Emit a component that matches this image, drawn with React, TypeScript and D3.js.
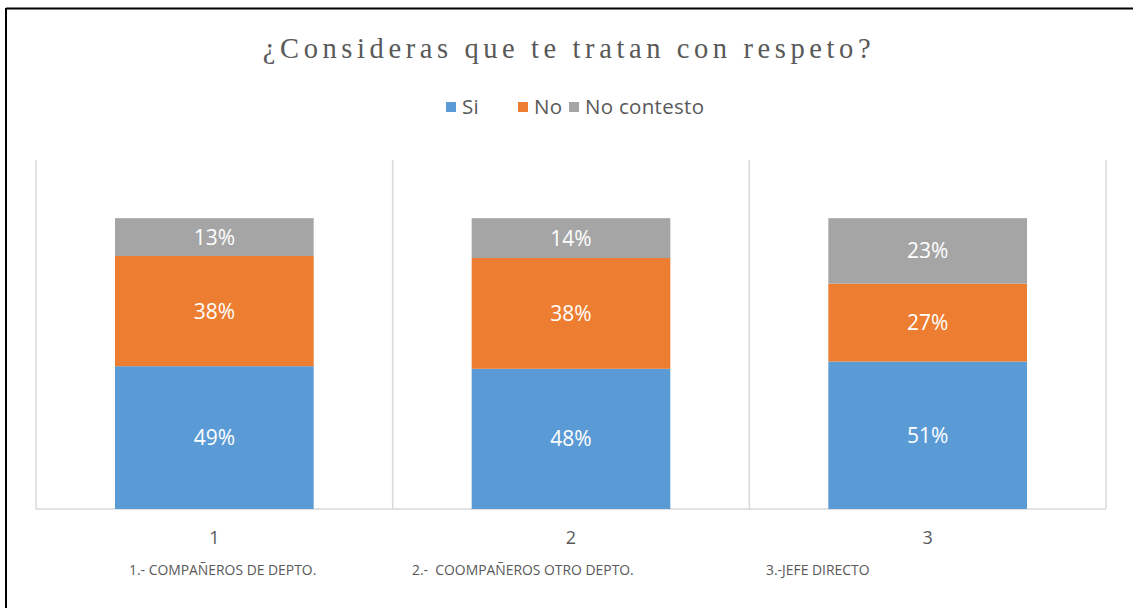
import React from "react";
import * as d3 from "d3";

const categories = ["1", "2", "3"];
const subLabels = ["1.- COMPAÑEROS DE DEPTO.", "2.-  COOMPAÑEROS OTRO DEPTO.", "3.-JEFE DIRECTO"];
const seriesNames = ["Si", "No", "No contesto"];
const siValues = [49.1, 48.2, 50.7];
const noValues = [37.9, 38.1, 26.8];
const noContestoValues = [13.0, 13.7, 22.5];
const colors = ["#5B9BD5", "#ED7D31", "#A5A5A5"];
const title = "¿Consideras que te tratan con respeto?";

const W = 1133;
const H = 608;
const plot = { left: 36, right: 1106, top: 160, bottom: 509 };
const FONT = "'Open Sans', 'Noto Sans', sans-serif";

export default function App() {
  const x = d3.scaleBand<string>().domain(categories).range([plot.left, plot.right]).padding(0);
  const y = d3.scaleLinear().domain([0, 120]).range([plot.bottom, plot.top]);
  const barW = x.bandwidth() * 0.557;

  const rows = categories.map((c, i) => ({ cat: c, Si: siValues[i], No: noValues[i], "No contesto": noContestoValues[i] }));
  const stacked = d3.stack<any>().keys(seriesNames)(rows);

  const gridXs = [...categories.map((c) => x(c) as number), plot.right];

  const legendItems = [
    { name: "Si", x: 446 },
    { name: "No", x: 518 },
    { name: "No contesto", x: 569 },
  ];
  const subX = [129, 412, 766];

  return (
    <svg width={W} height={H} style={{ position: "absolute", left: 0, top: 0, background: "#fff" }}>
      <rect x={0} y={0} width={W} height={H} fill="#fff" />
      <line x1={6} y1={8.5} x2={W} y2={8.5} stroke="#000" strokeWidth={2} />
      <line x1={6} y1={8} x2={6} y2={H} stroke="#000" strokeWidth={2} />
      <text x={569} y={58} textAnchor="middle" fontFamily="'Liberation Serif', serif" fontSize={28.5} letterSpacing={4.6} fill="#595959">
        {title}
      </text>
      {legendItems.map((l, i) => (
        <g key={l.name}>
          <rect x={l.x} y={102} width={10} height={10} fill={colors[i]} />
          <text x={l.x + 16} y={114} fontFamily={FONT} fontSize={20.5} letterSpacing={0.3} fill="#595959">{l.name}</text>
        </g>
      ))}
      {gridXs.map((gx, i) => (
        <line key={i} x1={gx} y1={plot.top} x2={gx} y2={plot.bottom} stroke="#D9D9D9" strokeWidth={1.5} />
      ))}
      <line x1={plot.left} y1={plot.bottom} x2={plot.right} y2={plot.bottom} stroke="#D9D9D9" strokeWidth={1.5} />
      {stacked.map((s, si) => (
        <g key={s.key}>
          {s.map((d, i) => {
            const cx = (x(categories[i]) as number) + x.bandwidth() / 2;
            const y0 = y(d[0]);
            const y1 = y(d[1]);
            return (
              <g key={i}>
                <rect x={cx - barW / 2} y={y1} width={barW} height={y0 - y1} fill={colors[si]} />
                <text x={cx} y={(y0 + y1) / 2 + 7.5} textAnchor="middle" fontFamily={FONT} fontSize={21} fill="#fff">
                  {`${Math.round(d[1] - d[0])}%`}
                </text>
              </g>
            );
          })}
        </g>
      ))}
      {categories.map((c) => (
        <text key={c} x={(x(c) as number) + x.bandwidth() / 2} y={544} textAnchor="middle" fontFamily={FONT} fontSize={18} fill="#595959">
          {c}
        </text>
      ))}
      {subLabels.map((s, i) => (
        <text key={i} x={subX[i]} y={575} fontFamily={FONT} fontSize={13.9} fill="#595959" style={{ whiteSpace: "pre" }}>
          {s}
        </text>
      ))}
    </svg>
  );
}
